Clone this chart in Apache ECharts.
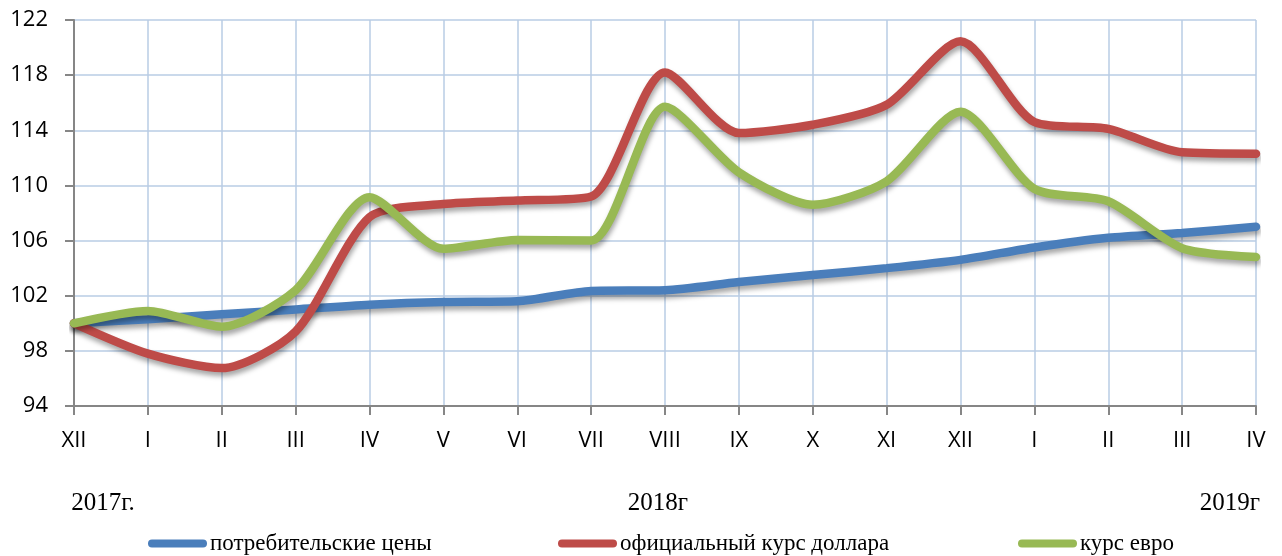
<!DOCTYPE html>
<html lang="ru">

<head>
    <meta charset="UTF-8">
    <title>Индексы цен и курсов валют</title>
    <script src="https://cdn.jsdelivr.net/npm/echarts@6.0.0/dist/echarts.min.js"></script>
    <style>
        html, body { margin: 0; padding: 0; background: #fff; }
        #chart { width: 1282px; height: 556px; }
    </style>
</head>

<body>
    <div id="chart"></div>

    <script>
        // подписи оси X (месяцы, XII.2017 - IV.2019)
        var months = ['XII', 'I', 'II', 'III', 'IV', 'V', 'VI', 'VII', 'VIII', 'IX', 'X', 'XI', 'XII', 'I', 'II', 'III', 'IV'];
        // подписи годов под осью
        var years = ['2017г.', '2018г', '2019г'];

        var seriesNames = ['потребительские цены', 'официальный курс доллара', 'курс евро'];
        // значения (XII 2017 = 100)
        var cpi = [100, 100.3, 100.65, 101.0, 101.35, 101.55, 101.6, 102.35, 102.4, 103.0, 103.5, 104.0, 104.6, 105.5, 106.2, 106.55, 107.0];
        var usd = [100, 97.8, 96.75, 99.4, 107.7, 108.65, 108.9, 109.2, 118.2, 113.8, 114.4, 115.85, 120.45, 114.6, 114.1, 112.4, 112.3];
        var eur = [100, 100.9, 99.75, 102.4, 109.15, 105.4, 106.05, 106.0, 115.7, 110.95, 108.6, 110.3, 115.35, 109.75, 108.85, 105.45, 104.8];

        var colors = ['#4a7ebb', '#be4b48', '#98b954'];
        var gridColor = '#b9cde5';
        var axisColor = '#868686';

        var chart = echarts.init(document.getElementById('chart'));

        function makeSeries(name, data, color) {
            return {
                name: name,
                type: 'line',
                smooth: 0.25,
                symbol: 'none',
                data: data,
                itemStyle: { color: color },
                lineStyle: {
                    color: color,
                    width: 8.5,
                    cap: 'round',
                    shadowColor: 'rgba(0, 0, 0, 0.35)',
                    shadowBlur: 5,
                    shadowOffsetX: 1,
                    shadowOffsetY: 4
                }
            };
        }

        // значок легенды - толстая линия со скруглёнными концами
        var pill = 'path://M4,0 L55,0 A4,4 0 0 1 55,8 L4,8 A4,4 0 0 1 4,0 Z';
        var legendLeft = [143, 553, 1013];
        var legends = [];
        for (var i = 0; i < seriesNames.length; i++) {
            legends.push({
                data: [seriesNames[i]],
                left: legendLeft[i],
                top: 527,
                icon: pill,
                itemWidth: 59,
                itemHeight: 8,
                itemGap: 3,
                selectedMode: false,
                textStyle: {
                    fontFamily: 'Liberation Serif',
                    fontSize: 23,
                    color: '#000',
                    padding: [0, 0, 0, -2]
                }
            });
        }

        // подписи годов (центры текстов)
        var yearX = [103, 658, 1230];
        var yearTexts = [];
        for (var j = 0; j < years.length; j++) {
            yearTexts.push({
                type: 'text',
                x: yearX[j],
                y: 503,
                style: {
                    text: years[j],
                    fontFamily: 'Liberation Serif',
                    fontSize: 25,
                    fill: '#000',
                    textAlign: 'center',
                    textVerticalAlign: 'middle'
                }
            });
        }

        var option = {
            animation: false,
            grid: {
                left: 74,
                right: 26,
                top: 20,
                bottom: 150
            },
            legend: legends,
            graphic: yearTexts,
            xAxis: {
                type: 'category',
                boundaryGap: false,
                data: months,
                axisLine: { lineStyle: { color: axisColor, width: 2 } },
                axisTick: { show: true, length: 9, lineStyle: { color: axisColor, width: 2 } },
                axisLabel: {
                    margin: 24,
                    fontFamily: 'Open Sans',
                    fontSize: 22,
                    color: '#000'
                },
                splitLine: { show: true, lineStyle: { color: gridColor, width: 1.5 } }
            },
            yAxis: {
                type: 'value',
                min: 94,
                max: 122,
                interval: 4,
                axisLine: { show: true, lineStyle: { color: axisColor, width: 2 } },
                axisTick: { show: true, length: 9, lineStyle: { color: axisColor, width: 2 } },
                axisLabel: {
                    margin: 26,
                    fontFamily: 'Open Sans',
                    fontSize: 22,
                    color: '#000'
                },
                splitLine: { show: true, lineStyle: { color: gridColor, width: 1.5 } }
            },
            series: [
                makeSeries(seriesNames[0], cpi, colors[0]),
                makeSeries(seriesNames[1], usd, colors[1]),
                makeSeries(seriesNames[2], eur, colors[2])
            ]
        };

        chart.setOption(option);
    </script>
</body>

</html>
